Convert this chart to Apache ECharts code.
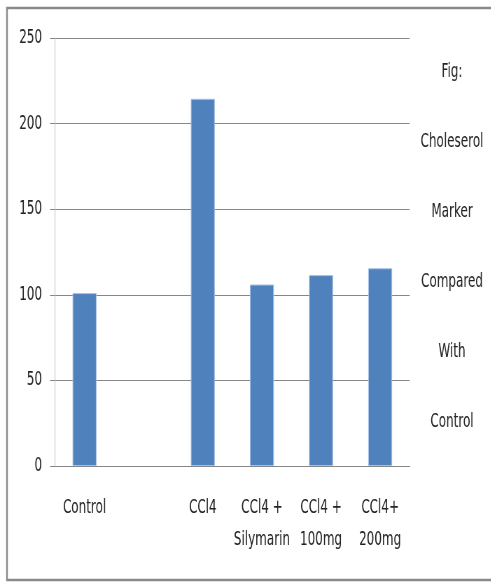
<!DOCTYPE html>
<html>
<head>
<meta charset="utf-8">
<script src="https://cdn.jsdelivr.net/npm/echarts@6/dist/echarts.min.js"></script>
<style>
  html, body { margin: 0; padding: 0; background: #fff; overflow: hidden; }
  /* the original text is tall and narrow: draw wider, then squeeze horizontally */
  #chart { width: 701.43px; height: 582px; transform: scaleX(0.7); transform-origin: 0 0; }
</style>
</head>
<body>
<div id="chart"></div>
<script>
  // values
  let categories = ['Control', '', 'CCl4', 'CCl4 +\nSilymarin', 'CCl4 +\n100mg', 'CCl4+\n200mg']
  let cholesterol = [101, null, 214.5, 106, 111.5, 115.5]
  let yTicks = { min: 0, max: 250, interval: 50 }
  let sideNote = ['Fig:', 'Choleserol', 'Marker', 'Compared', 'With', 'Control']

  let sx = 0.7 // horizontal squeeze
  let font = '"DejaVu Sans Condensed", "DejaVu Sans", sans-serif'
  let chart = echarts.init(document.getElementById('chart'))

  let options = {
    animation: false,
    textStyle: { fontFamily: font },
    grid: { left: 55 / sx, top: 38, right: 81 / sx, bottom: 116 },
    xAxis: {
      type: 'category',
      data: categories,
      axisLine: { lineStyle: { color: '#868686', width: 1 } },
      axisTick: { length: 9, lineStyle: { color: '#868686', width: 1.4 } },
      axisLabel: {
        interval: 0,
        margin: 26,
        fontSize: 19,
        lineHeight: 32,
        color: '#222',
        fontFamily: font
      }
    },
    yAxis: {
      type: 'value',
      min: yTicks.min,
      max: yTicks.max,
      interval: yTicks.interval,
      axisLine: { show: true, lineStyle: { color: '#d4d4d4', width: 1.4 } },
      axisTick: { show: true, length: 5 / sx, lineStyle: { color: '#868686' } },
      axisLabel: { margin: 13 / sx, fontSize: 19, color: '#222', fontFamily: font },
      splitLine: { lineStyle: { color: '#868686', width: 1 } }
    },
    series: [
      {
        name: 'Cholesterol',
        type: 'bar',
        data: cholesterol,
        barWidth: 24 / sx,
        itemStyle: { color: '#4f81bd', borderColor: '#a9c1e0', borderWidth: 1 }
      }
    ],
    graphic: [
      {
        type: 'rect',
        silent: true,
        shape: { x: 7 / sx, y: 8, width: 900, height: 572 },
        style: { fill: 'none', stroke: '#8a8a8a', lineWidth: 2.4 }
      },
      {
        type: 'text',
        silent: true,
        x: 452 / sx,
        y: 37,
        style: {
          text: sideNote.join('\n'),
          align: 'center',
          verticalAlign: 'top',
          lineHeight: 70,
          fontSize: 19,
          fontFamily: font,
          fill: '#222'
        }
      }
    ]
  }
  chart.setOption(options)
</script>
</body>
</html>
